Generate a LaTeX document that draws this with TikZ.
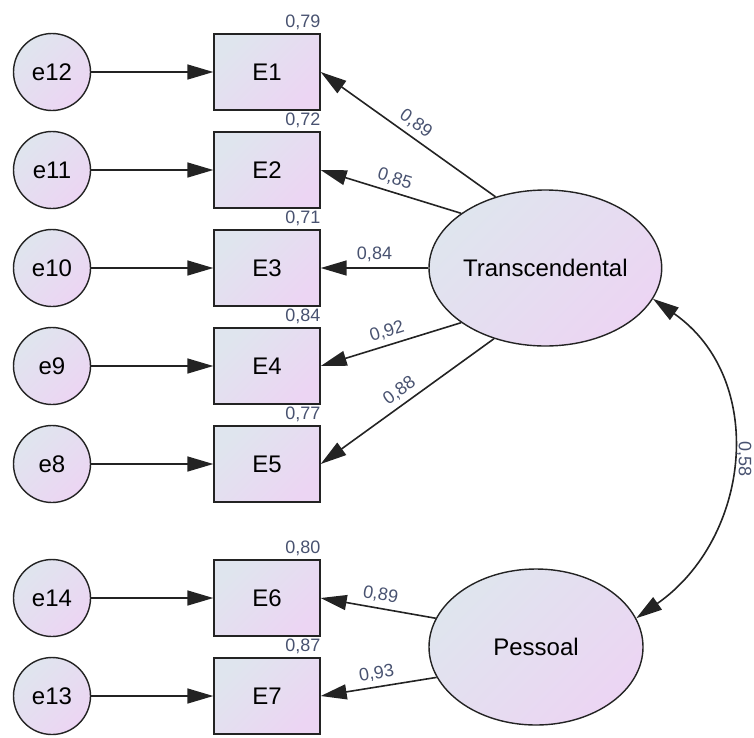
\documentclass[tikz,border=0pt]{standalone}
\usepackage{fontspec}
\setmainfont{Liberation Sans}
\usepackage{tikz}
\usetikzlibrary{shapes, positioning, calc, arrows.meta}
\definecolor{fillA}{RGB}{223,229,238}
\definecolor{fillB}{RGB}{236,213,243}
\definecolor{numtext}{RGB}{72,82,112}
\definecolor{edge}{RGB}{35,35,35}

\begin{document}
\begin{tikzpicture}[
    x = 1pt, y = 1pt, auto,
    > = {Triangle[length = 26pt, width = 15pt]},
    latent/.style = {
      ellipse, draw = edge, line width = 1.4pt, inner sep = 0pt,
      minimum width = 214pt, minimum height = 156pt,
      top color = fillA, bottom color = fillB, shading angle = 45,
      font = \fontsize{24}{28}\selectfont
    },
    manifest/.style = {
      rectangle, draw = edge, line width = 1.4pt, inner sep = 0pt,
      minimum width = 106pt, minimum height = 76pt,
      top color = fillA, bottom color = fillB, shading angle = 45,
      font = \fontsize{24}{28}\selectfont
    },
    error/.style = {
      circle, draw = edge, line width = 1.4pt, inner sep = 0pt,
      minimum size = 77pt,
      top color = fillA, bottom color = fillB, shading angle = 45,
      font = \fontsize{24}{28}\selectfont
    },
    path/.style = {
      ->, line width = 1.6pt, draw = edge
    },
    cov/.style = {
      <->, line width = 1.6pt, draw = edge
    },
    coef/.style = {
      sloped, above, inner sep = 5pt, text = numtext,
      font = \fontsize{18}{20}\selectfont
    },
    rsq/.style = {
      anchor = south east, inner sep = 3pt, inner xsep = 0pt, text = numtext,
      font = \fontsize{18}{20}\selectfont
    },
    ]

    \useasboundingbox (0,0) rectangle (754,-737);

    % draw observed items
    \node  [manifest]  (E1)  at (267,-72)  {E1};
    \foreach \i [remember = \i as \lasti (initially 1)] in {2, ..., 5}
    \node  [manifest]  (E\i)  [below = 20.6pt of E\lasti]  {E\i};
    \node  [manifest]  (E6)  [below = 56.6pt of E5]  {E6};
    \node  [manifest]  (E7)  [below = 20.6pt of E6]  {E7};

    % draw factors
    \node  [latent]  (trans)  [right = 107.6pt of E3]  {Transcendental};
    \node  [latent]  (pess)  at (536,-647)  {Pessoal};

    % draw errors and their paths
    \foreach \i/\e in {1/12, 2/11, 3/10, 4/9, 5/8, 6/14, 7/13}{
      \node  [error]  (e\e)  [left = 122.1pt of E\i]  {e\e};
      \draw  [path]  (e\e)  to  (E\i);
    }

    % squared multiple correlations
    \foreach \i/\r in {1/{0,79}, 2/{0,72}, 3/{0,71}, 4/{0,84}, 5/{0,77}, 6/{0,80}, 7/{0,87}}
    \node  [rsq]  (r\i)  at (E\i.north east)  {\r};

    % draw loadings
    \foreach \i/\a/\c in {1/125/{0,89}, 2/147/{0,85}, 3/180/{0,84}, 4/213/{0,92}, 5/234/{0,88}}
    \draw  [path]  (trans.\a)  to node  [coef]  {\c}  (E\i.east);

    \foreach \i/\a/\c in {6/164/{0,89}, 7/197/{0,93}}
    \draw  [path]  (pess.\a)  to node  [coef]  {\c}  (E\i.east);

    % factor covariance
    \draw  [cov]  (trans.344)  to [out = -35, in = 35, looseness = 1.12]
      node  [pos = .5, rotate = -90, anchor = south, inner sep = 5pt, text = numtext,
             font = \fontsize{18}{20}\selectfont]  (r58)  {0,58}  (pess.16);

\end{tikzpicture}
\end{document}
